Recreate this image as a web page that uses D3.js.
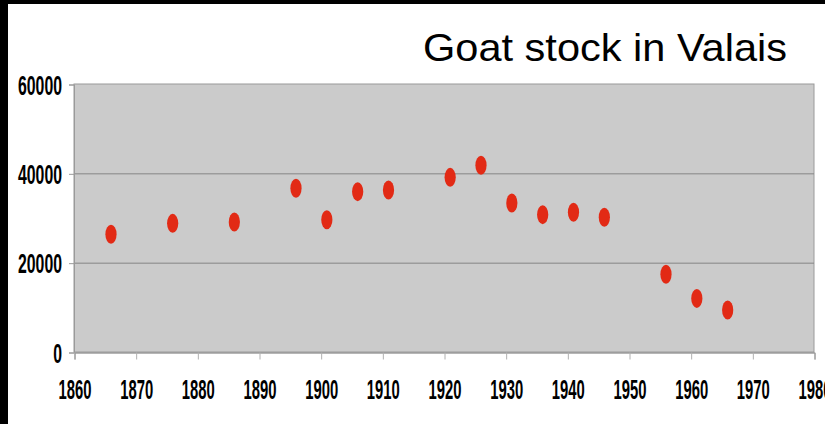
<!DOCTYPE html>
<html>
<head>
<meta charset="utf-8">
<script src="https://cdn.jsdelivr.net/npm/d3@7"></script>
<style>
  html, body { margin: 0; padding: 0; background: #000; }
  svg { display: block; }
</style>
</head>
<body>
<script>
// Census years and goat counts for the canton of Valais
const years  = [1866, 1876, 1886, 1896, 1901, 1906, 1911, 1921, 1926, 1931, 1936, 1941, 1946, 1956, 1961, 1966];
const goats  = [26350, 28800, 29100, 36650, 29600, 35900, 36250, 39100, 41800, 33350, 30750, 31300, 30150, 17400, 12000, 9400];
const xTicks = [1860, 1870, 1880, 1890, 1900, 1910, 1920, 1930, 1940, 1950, 1960, 1970, 1980];
const yTicks = [0, 20000, 40000, 60000];
const title  = "Goat stock in Valais";

const W = 825, H = 424;
const plot = { left: 74, right: 814, top: 84, bottom: 352 };

const svg = d3.select("body").append("svg").attr("width", W).attr("height", H);

// white page inside a dark frame on the left and top
svg.append("rect").attr("x", 0).attr("y", 0).attr("width", W).attr("height", H).attr("fill", "#000");
svg.append("rect").attr("x", 8).attr("y", 4).attr("width", W - 8).attr("height", H - 4).attr("fill", "#fff");

const x = d3.scaleLinear().domain([1860, 1980]).range([plot.left, plot.right]);
const y = d3.scaleLinear().domain([0, 60000]).range([plot.bottom, plot.top]);

// plot background
svg.append("rect")
  .attr("x", plot.left).attr("y", plot.top)
  .attr("width", plot.right - plot.left).attr("height", plot.bottom - plot.top)
  .attr("fill", "#cbcbcb").attr("stroke", "#9a9a9a").attr("stroke-width", 1);

// horizontal gridlines
svg.append("g").selectAll("line").data(yTicks.filter(d => d > 0 && d < 60000)).join("line")
  .attr("x1", plot.left).attr("x2", plot.right)
  .attr("y1", d => y(d) + 0.5).attr("y2", d => y(d) + 0.5)
  .attr("stroke", "#858585").attr("stroke-width", 1);

const labelFont = "'Liberation Sans', Arial, sans-serif";

// y axis
const yAxis = svg.append("g")
  .attr("transform", `translate(${plot.left},0.5)`)
  .call(d3.axisLeft(y).tickValues(yTicks).tickSize(5).tickPadding(7).tickFormat(d3.format("d")));
yAxis.select(".domain").attr("stroke", "#9a9a9a");
yAxis.selectAll(".tick line").attr("stroke", "#9a9a9a");
yAxis.selectAll(".tick text")
  .attr("fill", "#000")
  .style("font-family", labelFont).style("font-weight", "bold").style("font-size", "27px")
  .attr("dy", "0.36em")
  .attr("textLength", d => String(d).length * 8.8)
  .attr("lengthAdjust", "spacingAndGlyphs");

// x axis
const xAxis = svg.append("g")
  .attr("transform", `translate(0.5,${plot.bottom + 0.5})`)
  .call(d3.axisBottom(x).tickValues(xTicks).tickSize(7).tickPadding(30).tickFormat(d3.format("d")));
xAxis.select(".domain").attr("stroke", "#6e6e6e");
xAxis.selectAll(".tick line").attr("stroke", "#b0b0b0");
xAxis.selectAll(".tick text")
  .attr("fill", "#000")
  .style("font-family", labelFont).style("font-weight", "bold").style("font-size", "27.5px")
  .attr("dy", "0.36em")
  .attr("textLength", 33)
  .attr("lengthAdjust", "spacingAndGlyphs");

// data points
svg.append("g").selectAll("ellipse").data(years.map((yr, i) => ({ yr, v: goats[i] }))).join("ellipse")
  .attr("cx", d => x(d.yr))
  .attr("cy", d => y(d.v))
  .attr("rx", 5.6).attr("ry", 9.5)
  .attr("fill", "#e22a15");

// title
svg.append("text")
  .attr("x", 787).attr("y", 61)
  .attr("text-anchor", "end")
  .attr("textLength", 364).attr("lengthAdjust", "spacingAndGlyphs")
  .style("font-family", labelFont).style("font-size", "38.5px")
  .attr("fill", "#000")
  .text(title);
</script>
</body>
</html>
